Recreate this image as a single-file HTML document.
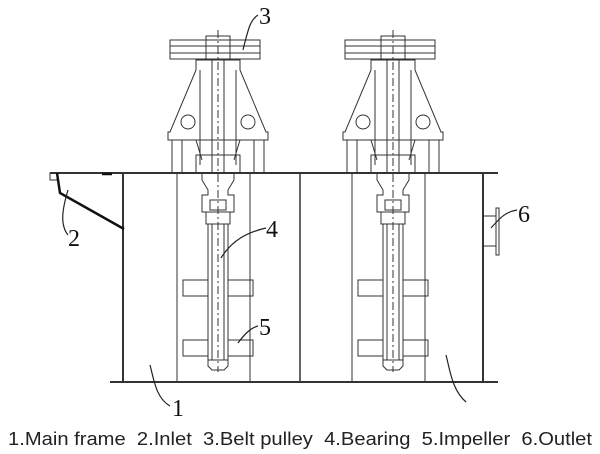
<!DOCTYPE html>
<html><head><meta charset="utf-8"><style>
html,body{margin:0;padding:0;background:#fff;width:600px;height:454px;overflow:hidden}
</style></head><body>
<svg width="600" height="454" viewBox="0 0 600 454" xmlns="http://www.w3.org/2000/svg">
<defs>
<g id="unit" fill="none" stroke="#333" stroke-width="1">
  <rect x="-48" y="40" width="90" height="19"/>
  <line x1="-48" y1="46" x2="42" y2="46"/>
  <line x1="-48" y1="53" x2="42" y2="53"/>
  <rect x="-12" y="36" width="24" height="24"/>
  <path d="M-22 60 L-22 70 L-48 132 L-50 132 L-50 140 L50 140 L50 132 L48 132 L22 70 L22 60 Z"/>
  <path d="M-18 70 L-18 165 M18 70 L18 165"/>
  <path d="M-22 140 L-16 160 M22 140 L16 160"/>
  <circle cx="-30" cy="122" r="7"/>
  <circle cx="30" cy="122" r="7"/>
  <rect x="-46" y="140" width="10" height="33"/>
  <rect x="36" y="140" width="10" height="33"/>
  <rect x="-22" y="155" width="44" height="18"/>
  <path d="M-16 173 L-16 180 L-10 190 L-10 195 L-16 195 L-16 212 L16 212 L16 195 L10 195 L10 190 L16 180 L16 173"/>
  <rect x="-8" y="200" width="16" height="10"/>
  <rect x="-12" y="212" width="24" height="12"/>
  <rect x="-10" y="224" width="20" height="136"/>
  <line x1="-6" y1="224" x2="-6" y2="360"/>
  <line x1="6" y1="224" x2="6" y2="360"/>
  <line x1="0" y1="30" x2="0" y2="372" stroke-dasharray="8 3 2 3"/>
  <line x1="-6" y1="60" x2="-6" y2="173"/>
  <line x1="6" y1="60" x2="6" y2="173"/>
  <path d="M-10 360 L-10 366 L-6 370 L6 370 L10 366 L10 360"/>
  <rect x="-35" y="280" width="25" height="16"/>
  <rect x="10" y="280" width="25" height="16"/>
  <rect x="-35" y="340" width="25" height="16"/>
  <rect x="10" y="340" width="25" height="16"/>
  <line x1="-41" y1="173" x2="-41" y2="382"/>
  <line x1="32" y1="173" x2="32" y2="382"/>
</g>
</defs>
<g stroke="#333" fill="none">
  <line x1="50" y1="173" x2="498" y2="173" stroke-width="2"/>
  <line x1="110" y1="382" x2="498" y2="382" stroke-width="2"/>
  <line x1="123" y1="173" x2="123" y2="382" stroke-width="2"/>
  <line x1="300" y1="173" x2="300" y2="382" stroke-width="1.5"/>
  <line x1="483" y1="173" x2="483" y2="382" stroke-width="2"/>
  <rect x="50" y="173" width="7" height="7" stroke-width="1"/>
  <path d="M57 173 L60 193 L124 229" stroke-width="2.5" stroke="#111"/>
  <line x1="102" y1="174" x2="112" y2="174" stroke-width="2.5" stroke="#111"/>
  <rect x="483" y="216" width="13" height="30" stroke-width="1"/>
  <rect x="496" y="208" width="3" height="47" stroke-width="1"/>
</g>
<use href="#unit" x="218" y="0"/>
<use href="#unit" x="393" y="0"/>
<g stroke="#222" fill="none" stroke-width="1.2">
  <path d="M243 50 C248 30 250 20 258 15"/>
  <path d="M68 190 C62 210 60 225 68 235"/>
  <path d="M221 258 C232 240 248 232 266 228"/>
  <path d="M238 343 C244 335 250 328 258 326"/>
  <path d="M491 228 C500 218 505 212 517 210"/>
  <path d="M150 365 C154 380 156 398 170 406"/>
  <path d="M446 355 C450 370 452 390 466 402"/>
</g>
<g font-family="Liberation Serif, serif" font-size="24" fill="#111">
  <text x="259" y="24">3</text>
  <text x="68" y="246">2</text>
  <text x="266" y="237">4</text>
  <text x="259" y="335">5</text>
  <text x="518" y="222">6</text>
  <text x="172" y="416">1</text>
</g>
<text x="8" y="445" font-family="Liberation Sans, sans-serif" font-size="18" fill="#222" textLength="584" lengthAdjust="spacingAndGlyphs">1.Main frame&#160;&#160;2.Inlet&#160;&#160;3.Belt pulley&#160;&#160;4.Bearing&#160;&#160;5.Impeller&#160;&#160;6.Outlet</text>
</svg>
</body></html>
